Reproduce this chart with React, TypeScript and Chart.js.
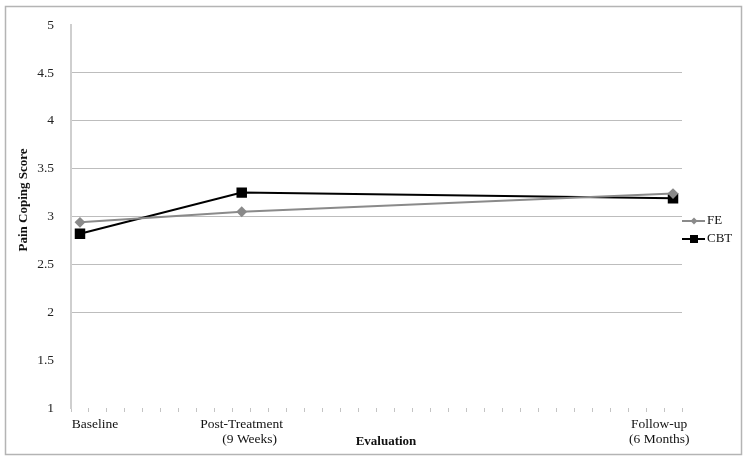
import React, { useEffect, useRef } from "react";
import { Chart, registerables } from "chart.js";

Chart.register(...registerables);

// 34 weekly slots; labelled ones at Baseline (0), Post-Treatment (9), Follow-up (33)
const slotCount = 34;
const categories: string[] = Array.from({ length: slotCount }, (_, i) => String(i));
const labelIndex = [0, 9, 33];
const xLabels: string[][] = [["Baseline"], ["Post-Treatment", "(9 Weeks)"], ["Follow-up", "(6 Months)"]];
const feValues = [2.94, 3.05, 3.24];
const cbtValues = [2.82, 3.25, 3.19];
const yTicks = [1, 1.5, 2, 2.5, 3, 3.5, 4, 4.5, 5];
const gridValues = [2, 2.5, 3, 3.5, 4, 4.5];
const yTitle = "Pain Coping Score";
const xTitle = "Evaluation";

function spread(vals: number[]): (number | null)[] {
  const out: (number | null)[] = categories.map(() => null);
  labelIndex.forEach((idx, k) => (out[idx] = vals[k]));
  return out;
}

const FONT = "'Liberation Serif', 'Times New Roman', serif";

const decorPlugin = {
  id: "decor",
  afterDraw(chart: any) {
    const ctx = chart.ctx;
    const x = chart.scales.x;
    ctx.save();
    // outer border
    ctx.strokeStyle = "#b4b4b4";
    ctx.lineWidth = 1.5;
    ctx.strokeRect(5.5, 6.5, 736, 448);

    // x category labels
    ctx.fillStyle = "#111";
    ctx.font = `13.5px ${FONT}`;
    ctx.textBaseline = "middle";
    const p0 = x.getPixelForValue(labelIndex[0]);
    ctx.textAlign = "center";
    ctx.fillText(xLabels[0][0], p0 + 15, 424);
    const p1 = x.getPixelForValue(labelIndex[1]);
    ctx.fillText(xLabels[1][0], p1, 424);
    ctx.fillText(xLabels[1][1], p1 + 8, 439);
    const p2 = x.getPixelForValue(labelIndex[2]);
    ctx.textAlign = "left";
    ctx.fillText(xLabels[2][0], p2 - 42, 424);
    ctx.fillText(xLabels[2][1], p2 - 44, 439);

    // x title
    ctx.textAlign = "center";
    ctx.font = `bold 13px ${FONT}`;
    ctx.fillText(xTitle, 386, 442);

    // y title
    ctx.save();
    ctx.translate(24, 200);
    ctx.rotate(-Math.PI / 2);
    ctx.textAlign = "center";
    ctx.textBaseline = "middle";
    ctx.font = `bold 13px ${FONT}`;
    ctx.fillText(yTitle, 0, 0);
    ctx.restore();

    // legend
    const items = chart.data.datasets;
    const ys = [221, 239];
    items.forEach((ds: any, i: number) => {
      const y = ys[i];
      ctx.strokeStyle = ds.borderColor;
      ctx.lineWidth = 2;
      ctx.beginPath();
      ctx.moveTo(682, y);
      ctx.lineTo(705, y);
      ctx.stroke();
      ctx.fillStyle = ds.pointBackgroundColor;
      ctx.beginPath();
      if (ds.pointStyle === "rectRot") {
        const r = 3.5;
        ctx.moveTo(694, y - r);
        ctx.lineTo(694 + r, y);
        ctx.lineTo(694, y + r);
        ctx.lineTo(694 - r, y);
        ctx.closePath();
      } else {
        ctx.rect(694 - 4, y - 4, 8, 8);
      }
      ctx.fill();
      ctx.fillStyle = "#111";
      ctx.font = `13px ${FONT}`;
      ctx.textAlign = "left";
      ctx.textBaseline = "middle";
      ctx.fillText(ds.label, 707, y);
    });
    ctx.restore();
  },
};

export default function App() {
  const ref = useRef<HTMLCanvasElement | null>(null);
  useEffect(() => {
    document.body.style.margin = "0";
    const canvas = ref.current!;
    const chart = new Chart(canvas, {
      type: "line",
      data: {
        labels: categories,
        datasets: [
          {
            label: "FE",
            data: spread(feValues),
            borderColor: "#8a8a8a",
            backgroundColor: "#8a8a8a",
            pointBackgroundColor: "#8a8a8a",
            pointBorderColor: "#8a8a8a",
            pointStyle: "rectRot",
            pointRadius: 4,
            borderWidth: 2,
            spanGaps: true,
            tension: 0,
          },
          {
            label: "CBT",
            data: spread(cbtValues),
            borderColor: "#000000",
            backgroundColor: "#000000",
            pointBackgroundColor: "#000000",
            pointBorderColor: "#000000",
            pointStyle: "rect",
            pointRadius: 6,
            borderWidth: 2,
            spanGaps: true,
            tension: 0,
          },
        ],
      },
      options: {
        animation: false,
        responsive: false,
        maintainAspectRatio: false,
        layout: { padding: { left: 14, right: 67, top: 20, bottom: 8 } },
        plugins: { legend: { display: false }, tooltip: { enabled: false } },
        scales: {
          x: {
            type: "category",
            offset: true,
            grid: {
              offset: true,
              drawOnChartArea: false,
              drawTicks: true,
              tickLength: 4,
              color: "#c4c4c4",
              lineWidth: 1,
            },
            border: { display: false },
            ticks: { display: false, autoSkip: false },
            afterFit: (s: any) => {
              s.height = 46;
            },
          },
          y: {
            min: 1,
            max: 5,
            afterBuildTicks: (s: any) => {
              s.ticks = yTicks.map((v) => ({ value: v }));
            },
            ticks: {
              padding: 17,
              color: "#222",
              font: { family: FONT, size: 13.5 },
              callback: (v: any) => String(v),
            },
            grid: {
              drawTicks: false,
              color: (c: any) =>
                gridValues.includes(c.tick?.value) ? "#bdbdbd" : "rgba(0,0,0,0)",
              lineWidth: 1,
            },
            border: { display: true, color: "#cfcfcf", width: 2 },
            title: { display: false },
            afterFit: (s: any) => {
              s.width = 57;
            },
          },
        },
      },
      plugins: [decorPlugin],
    });
    return () => chart.destroy();
  }, []);
  return (
    <div style={{ width: 749, height: 462, background: "#fff" }}>
      <canvas ref={ref} width={749} height={462} style={{ display: "block" }} />
    </div>
  );
}
